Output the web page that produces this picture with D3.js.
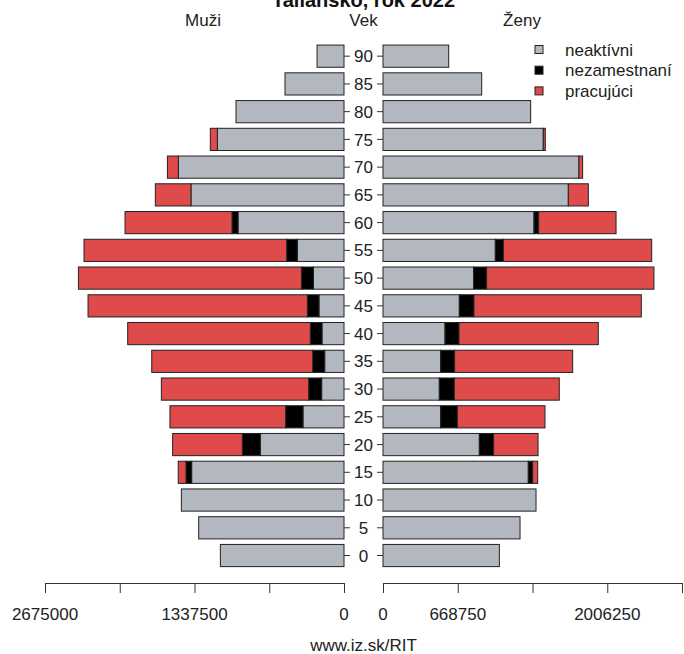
<!DOCTYPE html>
<html>
<head>
<meta charset="utf-8">
<script src="https://cdn.jsdelivr.net/npm/d3@7"></script>
<style>
  html, body { margin: 0; padding: 0; background: #fff; }
  svg { display: block; font-family: "Liberation Sans", Arial, Helvetica, sans-serif; }
</style>
</head>
<body>
<svg id="chart" width="684" height="654"></svg>
<script>
// ---- data ----
const title = "Taliansko, rok 2022";
const ages = [0, 5, 10, 15, 20, 25, 30, 35, 40, 45, 50, 55, 60, 65, 70, 75, 80, 85, 90];
const seriesNames = ["neaktívni", "nezamestnaní", "pracujúci"];
const seriesColors = ["#b3b8c0", "#000000", "#df4b4b"];

const menInactive   = [1106000, 1300000, 1455000, 1363000, 749000, 367000, 200000, 173000, 197000, 224000, 274000, 418000, 948000, 1369000, 1482000, 1133000, 966000, 528000, 241000];
const menUnemployed = [0, 0, 0, 51000, 161000, 155000, 116000, 107000, 104000, 104000, 107000, 95000, 54000, 0, 0, 0, 0, 0, 0];
const menEmployed   = [0, 0, 0, 69000, 623000, 1035000, 1318000, 1440000, 1634000, 1962000, 1995000, 1813000, 957000, 319000, 98000, 63000, 0, 0, 0];

const womenInactive   = [1041000, 1226000, 1369000, 1300000, 862000, 516000, 504000, 516000, 555000, 683000, 811000, 1005000, 1351000, 1658000, 1753000, 1434000, 1321000, 883000, 588000];
const womenUnemployed = [0, 0, 0, 39000, 128000, 149000, 134000, 125000, 125000, 131000, 116000, 72000, 42000, 0, 0, 0, 0, 0, 0];
const womenEmployed   = [0, 0, 0, 45000, 397000, 784000, 939000, 1056000, 1246000, 1497000, 1497000, 1327000, 692000, 179000, 33000, 18000, 0, 0, 0];

const axisMax = 2675000;
const axisTicks = [0, 668750, 1337500, 2006250, 2675000];
const leftTickLabels = [2675000, 1337500, 0];
const rightTickLabels = [0, 668750, 2006250];

// ---- layout ----
const svg = d3.select("#chart");
const FONT = 17;
const leftZero = 344, leftEnd = 45, rightZero = 383, rightEnd = 682;
const midX = (leftZero + rightZero) / 2;
const axisY = 583;

const xL = d3.scaleLinear().domain([0, axisMax]).range([leftZero, leftEnd]);
const xR = d3.scaleLinear().domain([0, axisMax]).range([rightZero, rightEnd]);
const y = d3.scaleBand().domain(ages.slice().reverse()).range([42.3, 569.4]).paddingInner(0.2).paddingOuter(0.1);

function buildRows(inact, unemp, empl) {
  return ages.map((a, i) => ({ age: a, values: [inact[i], unemp[i], empl[i]] }));
}
const men = buildRows(menInactive, menUnemployed, menEmployed);
const women = buildRows(womenInactive, womenUnemployed, womenEmployed);

function drawSide(rows, x, isLeft) {
  const g = svg.append("g");
  rows.forEach(r => {
    let cum = 0;
    r.values.forEach((v, k) => {
      const a = cum, b = cum + v;
      cum = b;
      if (v <= 0) return;
      const x0 = x(a), x1 = x(b);
      g.append("rect")
        .attr("x", Math.min(x0, x1))
        .attr("y", y(r.age))
        .attr("width", Math.abs(x1 - x0))
        .attr("height", y.bandwidth())
        .attr("fill", seriesColors[k])
        .attr("stroke", "#222")
        .attr("stroke-width", 1);
    });
  });
}
drawSide(men, xL, true);
drawSide(women, xR, false);

// age axes (ticks on both sides of the labels)
const ageAxisL = svg.append("g").attr("transform", `translate(${leftZero},0)`)
  .call(d3.axisRight(y).tickSize(6).tickFormat(""));
ageAxisL.select(".domain").remove();
const ageAxisR = svg.append("g").attr("transform", `translate(${rightZero},0)`)
  .call(d3.axisLeft(y).tickSize(6).tickFormat(""));
ageAxisR.select(".domain").remove();
svg.selectAll(".tick line").attr("stroke", "#333");

svg.append("g").selectAll("text").data(ages).join("text")
  .attr("x", midX)
  .attr("y", d => y(d) + y.bandwidth() / 2)
  .attr("dy", "0.36em")
  .attr("text-anchor", "middle")
  .attr("font-size", FONT)
  .attr("fill", "#222")
  .text(d => d);

// bottom axes
function bottomAxis(x, labels) {
  const g = svg.append("g").attr("transform", `translate(0,${axisY})`)
    .call(d3.axisBottom(x).tickValues(axisTicks).tickSize(10).tickSizeOuter(0).tickFormat(""));
  g.selectAll("path, line").attr("stroke", "#333");
  g.append("g").selectAll("text").data(labels).join("text")
    .attr("x", d => x(d))
    .attr("y", 37)
    .attr("text-anchor", "middle")
    .attr("font-size", FONT)
    .attr("fill", "#222")
    .text(d => d);
}
bottomAxis(xL, leftTickLabels);
bottomAxis(xR, rightTickLabels);

// titles
svg.append("text").attr("x", midX).attr("y", 7).attr("text-anchor", "middle")
  .attr("font-size", 20).attr("font-weight", "bold").attr("fill", "#111").text(title);
svg.append("text").attr("x", 203).attr("y", 26).attr("text-anchor", "middle")
  .attr("font-size", FONT).attr("fill", "#222").text("Muži");
svg.append("text").attr("x", midX).attr("y", 26).attr("text-anchor", "middle")
  .attr("font-size", FONT).attr("fill", "#222").text("Vek");
svg.append("text").attr("x", 522).attr("y", 26).attr("text-anchor", "middle")
  .attr("font-size", FONT).attr("fill", "#222").text("Ženy");

// footer
svg.append("text").attr("x", midX).attr("y", 651).attr("text-anchor", "middle")
  .attr("font-size", FONT).attr("fill", "#222").text("www.iz.sk/RIT");

// legend
const legend = svg.append("g").attr("transform", "translate(535,49.5)");
seriesNames.forEach((name, i) => {
  const row = legend.append("g").attr("transform", `translate(0,${i * 20.7})`);
  row.append("rect").attr("x", 0).attr("y", -4).attr("width", 8).attr("height", 8)
    .attr("fill", seriesColors[i]).attr("stroke", "#222").attr("stroke-width", 1);
  row.append("text").attr("x", 30).attr("y", 0).attr("dy", "0.36em")
    .attr("font-size", FONT).attr("fill", "#222").text(name);
});
</script>
</body>
</html>
